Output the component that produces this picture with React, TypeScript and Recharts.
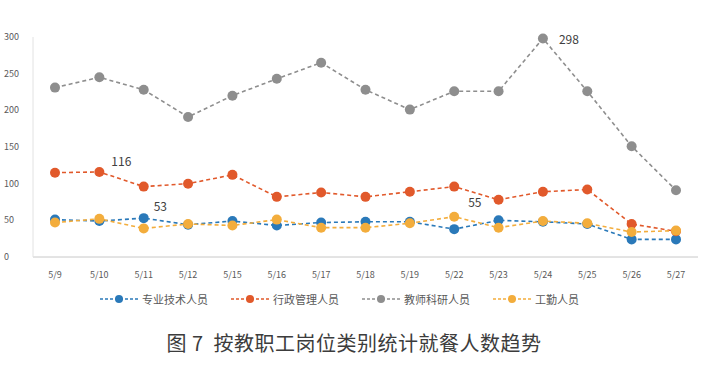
import { LineChart, Line, XAxis, YAxis, Legend } from 'recharts';

const dates = ['5/9', '5/10', '5/11', '5/12', '5/15', '5/16', '5/17', '5/18', '5/19', '5/22', '5/23', '5/24', '5/25', '5/26', '5/27'];
const zhuanye = [51, 49, 53, 44, 49, 43, 47, 48, 48, 38, 50, 48, 45, 24, 24];
const xingzheng = [115, 116, 96, 100, 112, 82, 88, 82, 89, 96, 78, 89, 92, 45, 35];
const jiaoshi = [231, 245, 228, 191, 220, 243, 265, 228, 201, 226, 226, 298, 226, 151, 91];
const gongqin = [47, 52, 39, 45, 43, 51, 40, 40, 46, 55, 40, 49, 46, 34, 36];
const yTicks = [0, 50, 100, 150, 200, 250, 300];

const series = [
  { key: 'zhuanye', name: '专业技术人员', color: '#2a79b9', labelAt: 2 },
  { key: 'xingzheng', name: '行政管理人员', color: '#e1592b', labelAt: 1 },
  { key: 'jiaoshi', name: '教师科研人员', color: '#8e8e8e', labelAt: 11 },
  { key: 'gongqin', name: '工勤人员', color: '#f3ad3c', labelAt: 9 },
];

const rows = dates.map((d, i) => ({
  date: d,
  zhuanye: zhuanye[i],
  xingzheng: xingzheng[i],
  jiaoshi: jiaoshi[i],
  gongqin: gongqin[i],
}));

const font = '"Noto Sans CJK SC", "Noto Sans", sans-serif';

// where each annotation sits relative to its dot
const labelOffset: Record<string, [number, number]> = {
  zhuanye: [10, -11],
  xingzheng: [12, -10],
  jiaoshi: [16, 1],
  gongqin: [14, -14],
};

const makeLabel = (key: string, at: number) => (props: any) => {
  if (props.index !== at) return null;
  const [dx, dy] = labelOffset[key];
  return (
    <text x={props.x + dx} y={props.y + dy} dy="0.35em" fontSize={12} fill="#404040" fontFamily={font}>
      {props.value}
    </text>
  );
};

const YTick = (props: any) => (
  <text x={4} y={props.y} dy="0.35em" fontSize={9} fill="#595959" fontFamily={font}>
    {props.payload.value}
  </text>
);

const XTick = (props: any) => (
  <text x={props.x} y={props.y + 10} dy="0.35em" textAnchor="middle" fontSize={9} fill="#595959" fontFamily={font}>
    {props.payload.value}
  </text>
);

const renderLegend = () => (
  <div style={{ height: 24, display: 'flex', alignItems: 'center', paddingLeft: 100, fontFamily: font, fontSize: 11, color: '#595959' }}>
    {series.map((s) => (
      <div key={s.key} style={{ display: 'flex', alignItems: 'center', width: 131 }}>
        <svg width={38} height={10} style={{ marginRight: 4 }}>
          <line x1={0} y1={5} x2={38} y2={5} stroke={s.color} strokeWidth={1.5} strokeDasharray="3 2" />
          <circle cx={19} cy={5} r={4} fill={s.color} />
        </svg>
        <span>{s.name}</span>
      </div>
    ))}
  </div>
);

export default function App() {
  return (
    <div style={{ position: 'absolute', left: 0, top: 0, width: 708, height: 367, background: '#fff' }}>
      <LineChart width={708} height={320} data={rows} margin={{ top: 37, right: 10, bottom: 9, left: 0 }}>
        <XAxis dataKey="date" tick={<XTick />} tickLine={false} axisLine={{ stroke: '#c8c8c8' }} height={30} interval={0} padding={{ left: 22, right: 22 }} />
        <YAxis domain={[0, 300]} ticks={yTicks} tick={<YTick />} tickLine={false} axisLine={{ stroke: '#e2e2e2' }} width={33} />
        <Legend verticalAlign="bottom" content={renderLegend} />
        {series.map((s) => (
          <Line
            key={s.key}
            dataKey={s.key}
            name={s.name}
            stroke={s.color}
            strokeWidth={1.6}
            strokeDasharray="4 3"
            dot={{ r: 5, fill: s.color, stroke: s.color, strokeWidth: 0 }}
            isAnimationActive={false}
            label={makeLabel(s.key, s.labelAt)}
          />
        ))}
      </LineChart>
      <div style={{ position: 'absolute', left: 0, top: 328, width: 708, textAlign: 'center', fontFamily: font, fontSize: 20, color: '#3c3c3c', letterSpacing: 0.5 }}>
        图 7&nbsp;&nbsp;按教职工岗位类别统计就餐人数趋势
      </div>
    </div>
  );
}
